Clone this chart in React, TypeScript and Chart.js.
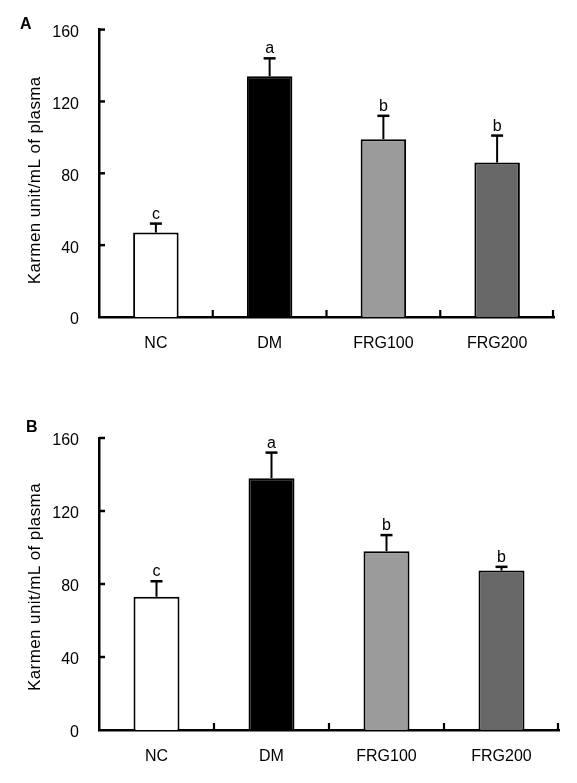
import React, { useEffect, useRef } from "react";
import { Chart, registerables } from "chart.js";

Chart.register(...registerables);

const categories = ["NC", "DM", "FRG100", "FRG200"];
const meansA = [47, 134, 99, 86];
const errorsA = [5, 10, 13, 15];
const lettersA = ["c", "a", "b", "b"];
const meansB = [73, 138, 98, 87.4];
const errorsB = [8.5, 14, 8.8, 2];
const lettersB = ["c", "a", "b", "b"];
const barColors = ["#ffffff", "#000000", "#9b9b9b", "#676867"];
const yMin = 0;
const yMax = 160;
const yStep = 40;
const yTitle = "Karmen unit/mL of plasma";

const FONT = "'Liberation Sans', Arial, Helvetica, sans-serif";

type PanelProps = {
  width: number;
  height: number;
  means: number[];
  errors: number[];
  letters: string[];
  label: string;
  labelX: number;
  labelY: number;
  padTop: number;
  padRight: number;
  xHeight: number;
  titleShift: number;
};

function Panel(props: PanelProps) {
  const ref = useRef<HTMLCanvasElement>(null);
  useEffect(() => {
    const canvas = ref.current;
    if (!canvas) return;
    const { means, errors, letters } = props;
    const extras = {
      id: "extras",
      afterDatasetsDraw(chart: any) {
        const ctx = chart.ctx as CanvasRenderingContext2D;
        const xs = chart.scales.x;
        const ys = chart.scales.y;
        const area = chart.chartArea;
        ctx.save();
        ctx.strokeStyle = "#000";
        ctx.fillStyle = "#000";
        ctx.lineCap = "butt";
        // inward ticks on the y axis
        ctx.lineWidth = 2.5;
        ys.ticks.forEach((t: any) => {
          if (t.value === yMin) return;
          const py = ys.getPixelForValue(t.value);
          ctx.beginPath();
          ctx.moveTo(area.left, py);
          ctx.lineTo(area.left + 6, py);
          ctx.stroke();
        });
        // inward ticks on the x axis at category boundaries
        ctx.lineWidth = 2.2;
        for (let i = 0; i < categories.length; i++) {
          const px =
            i < categories.length - 1
              ? (xs.getPixelForValue(i) + xs.getPixelForValue(i + 1)) / 2
              : area.right - 1;
          ctx.beginPath();
          ctx.moveTo(px, area.bottom);
          ctx.lineTo(px, area.bottom - 7);
          ctx.stroke();
        }
        // error bars and letters
        const meta = chart.getDatasetMeta(0);
        meta.data.forEach((bar: any, i: number) => {
          const cx = bar.x;
          const y0 = ys.getPixelForValue(means[i]);
          const y1 = ys.getPixelForValue(means[i] + errors[i]);
          ctx.lineWidth = 2;
          ctx.beginPath();
          ctx.moveTo(cx, y0);
          ctx.lineTo(cx, y1);
          ctx.stroke();
          ctx.lineWidth = 2.5;
          ctx.beginPath();
          ctx.moveTo(cx - 6, y1);
          ctx.lineTo(cx + 6, y1);
          ctx.stroke();
          ctx.font = `16px ${FONT}`;
          ctx.textAlign = "center";
          ctx.textBaseline = "alphabetic";
          ctx.fillText(letters[i], cx, y1 - 5);
        });
        // y axis title
        ctx.save();
        ctx.translate(35.5, (area.top + area.bottom) / 2 + props.titleShift);
        ctx.rotate(-Math.PI / 2);
        ctx.font = `17px ${FONT}`;
        (ctx as any).letterSpacing = "0.4px";
        ctx.textAlign = "center";
        ctx.textBaseline = "middle";
        ctx.fillText(yTitle, 0, 0);
        ctx.restore();
        // panel label
        ctx.font = `bold 16px ${FONT}`;
        ctx.textAlign = "left";
        ctx.textBaseline = "alphabetic";
        ctx.fillText(props.label, props.labelX, props.labelY);
        ctx.restore();
      },
    };
    const chart = new Chart(canvas, {
      type: "bar",
      data: {
        labels: categories,
        datasets: [
          {
            data: means,
            backgroundColor: barColors,
            borderColor: "#000",
            borderWidth: 2,
            borderSkipped: "start",
            barPercentage: 0.4,
            categoryPercentage: 1,
          },
        ],
      },
      options: {
        responsive: false,
        maintainAspectRatio: false,
        animation: false,
        devicePixelRatio: 1,
        layout: { padding: { top: props.padTop, right: props.padRight, left: 0, bottom: 0 } },
        plugins: {
          legend: { display: false },
          tooltip: { enabled: false },
          title: { display: false },
        },
        scales: {
          x: {
            grid: { display: false, drawTicks: false },
            border: { display: true, color: "#000", width: 2.5 },
            ticks: {
              color: "#000",
              font: { family: FONT, size: 16 },
              padding: 17,
              maxRotation: 0,
              autoSkip: false,
            },
            afterFit: (s: any) => {
              s.height = props.xHeight;
            },
          },
          y: {
            min: yMin,
            max: yMax,
            grid: { display: false, drawTicks: false },
            border: { display: true, color: "#000", width: 2.5 },
            ticks: {
              stepSize: yStep,
              color: "#000",
              font: { family: FONT, size: 16 },
              padding: 20,
              labelOffset: 3,
            },
            afterFit: (s: any) => {
              s.width = 99;
            },
          },
        },
      },
      plugins: [extras],
    });
    return () => chart.destroy();
  }, []);
  return (
    <canvas
      ref={ref}
      width={props.width}
      height={props.height}
      style={{ display: "block", width: props.width, height: props.height }}
    />
  );
}

export default function App() {
  useEffect(() => {
    document.body.style.margin = "0";
    document.body.style.background = "#fff";
  }, []);
  return (
    <div style={{ width: 577, height: 783, background: "#fff" }}>
      <Panel
        width={577}
        height={390}
        means={meansA}
        errors={errorsA}
        letters={lettersA}
        label="A"
        labelX={20}
        labelY={29}
        padTop={26}
        padRight={23}
        xHeight={73}
        titleShift={7}
      />
      <Panel
        width={577}
        height={393}
        means={meansB}
        errors={errorsB}
        letters={lettersB}
        label="B"
        labelX={26}
        labelY={42}
        padTop={48}
        padRight={18}
        xHeight={53}
        titleShift={3}
      />
    </div>
  );
}
